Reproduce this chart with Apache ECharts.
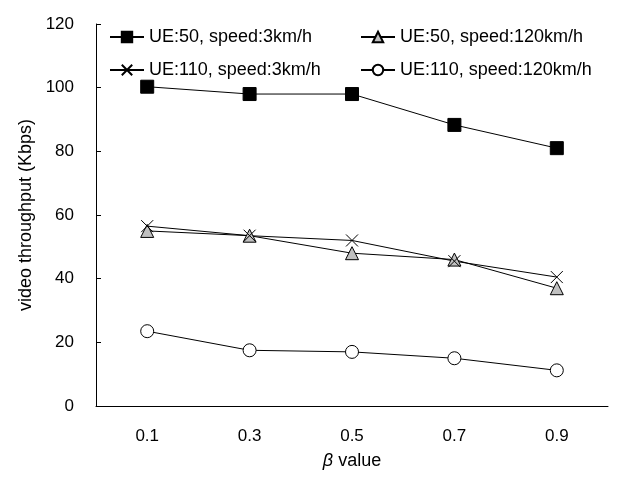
<!DOCTYPE html>
<html><head><meta charset="utf-8">
<script src="https://cdn.jsdelivr.net/npm/echarts@6/dist/echarts.min.js"></script>
<style>html,body{margin:0;padding:0;background:#fff}#c{width:631px;height:485px}</style>
</head><body><div id="c"></div>
<script>
var categories = ['0.1', '0.3', '0.5', '0.7', '0.9'];
var seriesNames = ['UE:50, speed:3km/h', 'UE:50, speed:120km/h', 'UE:110, speed:3km/h', 'UE:110, speed:120km/h'];
var ue50_3 = [100.3, 98, 98, 88.3, 81];
var ue50_120 = [55, 53.5, 48, 46, 37];
var ue110_3 = [56.5, 53.5, 52, 45.5, 40.5];
var ue110_120 = [23.5, 17.5, 17, 15, 11.2];
var yTicks = {min: 0, max: 120, interval: 20};

var font = 'Arial, "Liberation Sans", sans-serif';
var chart = echarts.init(document.getElementById('c'), null, {renderer: 'canvas'});
function mk(name, data, symbol, size, fill) {
  return {
    name: name, type: 'line', data: data, symbol: symbol, symbolSize: size,
    showSymbol: true, animation: false,
    lineStyle: {color: '#000', width: 1},
    itemStyle: {color: fill, borderColor: '#000', borderWidth: 1},
    z: 3
  };
}
function legendAt(name, left, top) {
  return {
    data: [name], left: left, top: top, itemWidth: 34, itemHeight: 13, itemGap: 5, padding: 0,
    textStyle: {fontFamily: font, fontSize: 18, color: '#000'},
    selectedMode: false
  };
}
chart.setOption({
  animation: false,
  backgroundColor: '#fff',
  grid: {left: 96, right: 23, top: 24, bottom: 79},
  legend: [
    legendAt(seriesNames[0], 109, 28),
    legendAt(seriesNames[1], 360, 28),
    legendAt(seriesNames[2], 109, 61),
    legendAt(seriesNames[3], 360, 61)
  ],
  xAxis: {
    type: 'category', data: categories, boundaryGap: true,
    name: '{i|β} value', nameLocation: 'middle', nameGap: 46,
    nameTextStyle: {fontFamily: font, fontSize: 18, color: '#000',
      rich: {i: {fontStyle: 'italic', fontFamily: font, fontSize: 18, color: '#000'}}},
    axisLine: {lineStyle: {color: '#000', width: 1}},
    axisTick: {inside: true, length: 5, lineStyle: {color: '#000'}},
    axisLabel: {margin: 22, fontFamily: font, fontSize: 17, color: '#000'},
    splitLine: {show: false}
  },
  yAxis: {
    type: 'value', min: yTicks.min, max: yTicks.max, interval: yTicks.interval,
    name: 'video throughput (Kbps)', nameLocation: 'middle', nameGap: 61,
    nameTextStyle: {fontFamily: font, fontSize: 18, color: '#000'},
    axisLine: {show: true, lineStyle: {color: '#000', width: 1}},
    axisTick: {show: true, inside: true, length: 5, lineStyle: {color: '#000'}},
    axisLabel: {margin: 22, fontFamily: font, fontSize: 17, color: '#000'},
    splitLine: {show: false}
  },
  series: [
    mk(seriesNames[0], ue50_3, 'rect', 13, '#000'),
    mk(seriesNames[1], ue50_120, 'triangle', 13, '#c0c0c0'),
    mk(seriesNames[2], ue110_3, 'path://M0,0L10,10M10,0L0,10', 12, 'none'),
    mk(seriesNames[3], ue110_120, 'circle', 13, '#fff')
  ]
});
</script></body></html>
